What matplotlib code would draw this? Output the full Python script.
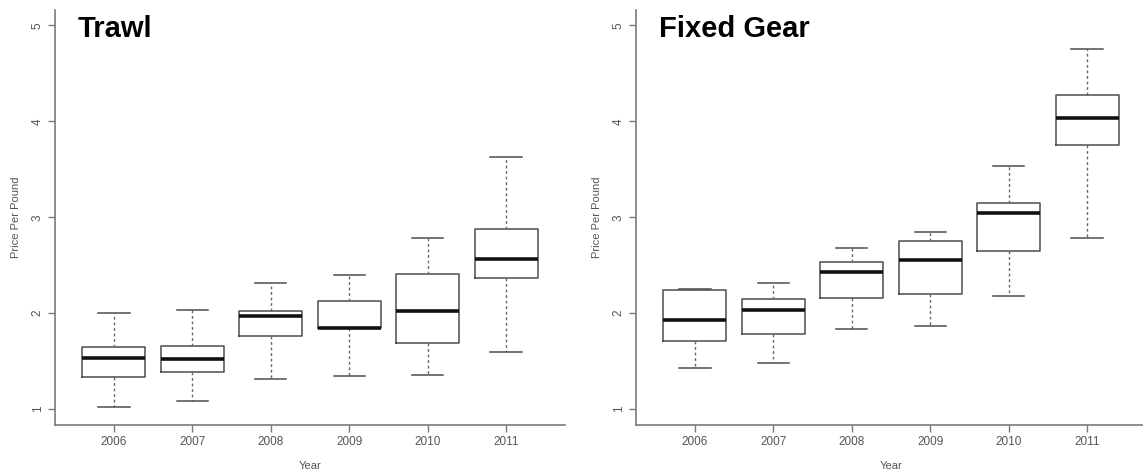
import matplotlib.pyplot as plt

plt.rcParams['font.family'] = ['Liberation Sans', 'DejaVu Sans']

years = ['2006', '2007', '2008', '2009', '2010', '2011']

# Trawl: whisker low, Q1, median, Q3, whisker high
trawl_lo = [1.02, 1.08, 1.31, 1.35, 1.36, 1.60]
trawl_q1 = [1.34, 1.39, 1.76, 1.85, 1.69, 2.37]
trawl_med = [1.53, 1.52, 1.97, 1.85, 2.02, 2.56]
trawl_q3 = [1.65, 1.66, 2.02, 2.13, 2.41, 2.88]
trawl_hi = [2.00, 2.03, 2.32, 2.40, 2.78, 3.63]

# Fixed Gear
fixed_lo = [1.43, 1.48, 1.84, 1.87, 2.18, 2.78]
fixed_q1 = [1.71, 1.78, 2.16, 2.20, 2.65, 3.75]
fixed_med = [1.93, 2.03, 2.43, 2.55, 3.04, 4.03]
fixed_q3 = [2.24, 2.15, 2.53, 2.75, 3.15, 4.27]
fixed_hi = [2.25, 2.31, 2.68, 2.85, 3.53, 4.75]

panels = [
    ('Trawl', trawl_lo, trawl_q1, trawl_med, trawl_q3, trawl_hi),
    ('Fixed Gear', fixed_lo, fixed_q1, fixed_med, fixed_q3, fixed_hi),
]

grey = '#7a7a7a'
fig = plt.figure(figsize=(11.43, 4.72), dpi=100)
lefts = [55 / 1143, 636 / 1143]
for left, (title, lo, q1, med, q3, hi) in zip(lefts, panels):
    ax = fig.add_axes([left, 47 / 472, 510 / 1143, 415 / 472])
    stats = []
    for i in range(len(years)):
        stats.append({'whislo': lo[i], 'q1': q1[i], 'med': med[i],
                      'q3': q3[i], 'whishi': hi[i], 'fliers': []})
    ax.bxp(stats, positions=range(1, 7), widths=0.8, showfliers=False,
           boxprops=dict(color='#4d4d4d', linewidth=1.1),
           medianprops=dict(color='#111111', linewidth=2.6),
           whiskerprops=dict(color='#666666', linewidth=1.0,
                             linestyle=(0, (2, 2))),
           capprops=dict(color='#4d4d4d', linewidth=1.1),
           capwidths=0.4)
    ax.set_xlim(0.25, 6.75)
    ax.set_ylim(0.835, 5.16)
    ax.set_xticks(range(1, 7))
    ax.set_xticklabels(years)
    ax.set_yticks([1, 2, 3, 4, 5])
    ax.set_yticklabels(['1', '2', '3', '4', '5'], rotation=90, va='center')
    for s in ['top', 'right']:
        ax.spines[s].set_visible(False)
    for s in ['left', 'bottom']:
        ax.spines[s].set_color(grey)
        ax.spines[s].set_linewidth(1.2)
    ax.tick_params(colors=grey, labelcolor='#555555', labelsize=8.5,
                   length=5, width=1)
    ax.tick_params(axis='x', pad=3)
    ax.tick_params(axis='y', pad=3)
    ax.set_xlabel('Year', fontsize=8, color='#555555', labelpad=9)
    ax.set_ylabel('Price Per Pound', fontsize=8, color='#555555', labelpad=8)
    ax.text(0.045, 0.955, title, transform=ax.transAxes, fontsize=21,
            fontweight='bold', color='black', va='center', ha='left')

fig.savefig('out.png', dpi=100)
